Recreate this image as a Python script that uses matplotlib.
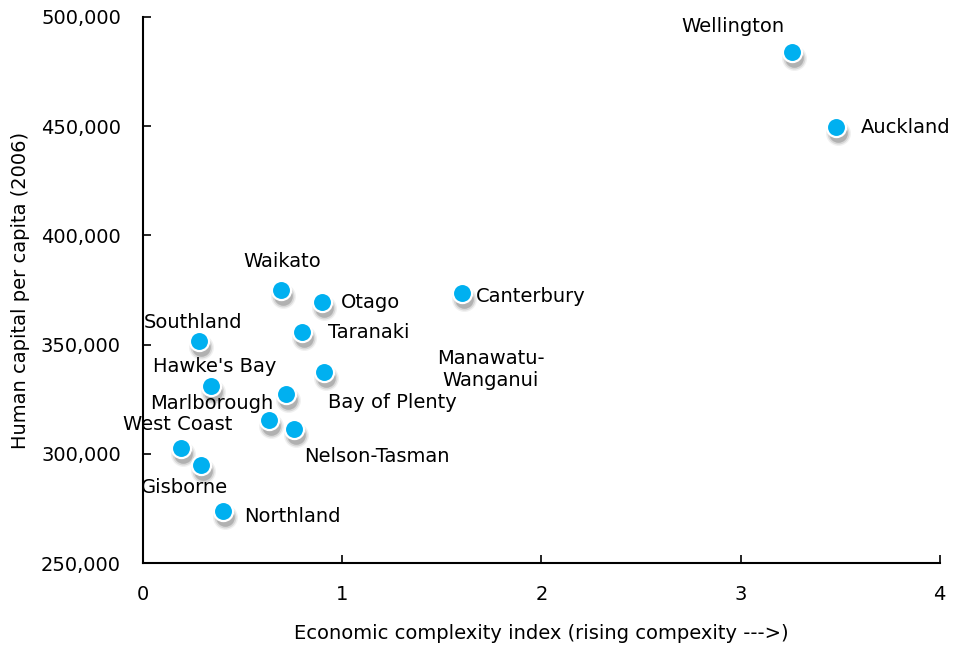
#!/usr/bin/env python3
"""Scatter of human capital per capita vs economic complexity, NZ regions."""

import matplotlib

matplotlib.use("Agg")
import matplotlib.pyplot as plt
import matplotlib.transforms as mtransforms

regions = [
    "Wellington", "Auckland", "Canterbury", "Waikato", "Otago", "Taranaki",
    "Southland", "Manawatu-\nWanganui", "Hawke's Bay", "Bay of Plenty",
    "Marlborough", "West Coast", "Nelson-Tasman", "Gisborne", "Northland",
]
complexity = [3.26, 3.48, 1.60, 0.69, 0.90, 0.80,
              0.28, 0.72, 0.34, 0.91,
              0.63, 0.19, 0.76, 0.29, 0.40]
human_capital = [484000, 449600, 373600, 375000, 369500, 355800,
                 351600, 327400, 331000, 337500,
                 315500, 302700, 311500, 294900, 273800]

# label offsets in pixels (dx, dy, ha)
label_offsets = {
    "Wellington": (-59, 25, "center"),
    "Auckland": (25, -1, "left"),
    "Canterbury": (14, -4, "left"),
    "Waikato": (2, 28, "center"),
    "Otago": (19, -1, "left"),
    "Taranaki": (26, -1, "left"),
    "Southland": (-6, 19, "center"),
    "Manawatu-\nWanganui": (204, 24, "center"),
    "Hawke's Bay": (4, 20, "center"),
    "Bay of Plenty": (4, -31, "left"),
    "Marlborough": (-57, 16, "center"),
    "West Coast": (-3, 23, "center"),
    "Nelson-Tasman": (10, -28, "left"),
    "Gisborne": (-16, -23, "center"),
    "Northland": (21, -5, "left"),
}

plt.rcParams["font.family"] = ["DejaVu Sans"]
FS = 14

fig = plt.figure(figsize=(9.54, 6.49), dpi=100)
ax = fig.add_axes([0.150, 0.1325, 0.835, 0.8415])

# soft drop shadow under each marker
for sz, a in [(320, 0.08), (250, 0.14), (180, 0.25)]:
    shadow = mtransforms.offset_copy(ax.transData, fig=fig, x=2, y=-6, units="dots")
    ax.scatter(complexity, human_capital, s=sz, color="#404040", alpha=a,
               linewidths=0, transform=shadow, zorder=2)
ax.scatter(complexity, human_capital, s=190, color="#00B0F0",
           edgecolors="white", linewidths=1.6, zorder=3)

for name, x, y in zip(regions, complexity, human_capital):
    dx, dy, ha = label_offsets[name]
    ax.annotate(name, (x, y), xytext=(dx, dy), textcoords="offset pixels",
                ha=ha, va="center", fontsize=FS, linespacing=1.2,
                color="black")

ax.set_xlim(0, 4)
ax.set_ylim(250000, 500000)
ax.set_xticks([0, 1, 2, 3, 4])
ax.set_yticks(range(250000, 500001, 50000))
ax.yaxis.set_major_formatter(matplotlib.ticker.StrMethodFormatter("{x:,.0f}"))
ax.tick_params(direction="in", length=6, width=1.2, labelsize=FS)
ax.tick_params(axis="y", pad=16)
ax.tick_params(axis="x", pad=16)
for side in ("top", "right"):
    ax.spines[side].set_visible(False)
for side in ("left", "bottom"):
    ax.spines[side].set_linewidth(1.5)

ax.set_xlabel("Economic complexity index (rising compexity --->)", fontsize=FS,
              labelpad=14)
ax.set_ylabel("Human capital per capita (2006)", fontsize=FS, labelpad=8)

fig.savefig("out.png", dpi=100)
